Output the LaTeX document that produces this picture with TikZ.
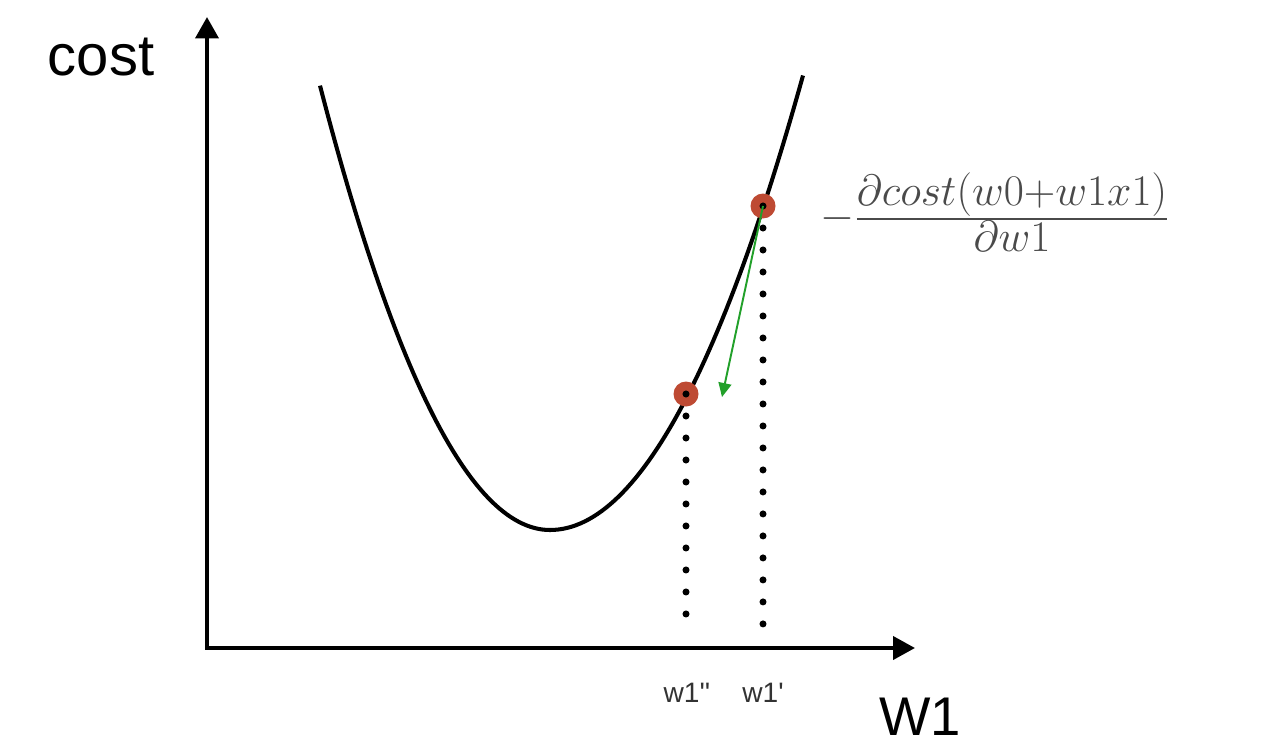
\documentclass[tikz,border=0pt]{standalone}
\usepackage{amsmath}
\usepackage[no-math]{fontspec}
\setmainfont{Liberation Sans}
\usetikzlibrary{arrows.meta,positioning}
\definecolor{dotred}{HTML}{BE4A33}
\definecolor{stepgreen}{HTML}{22A02A}
\definecolor{inkgray}{HTML}{4A4A4A}
\tikzset{axis/.style={line width=2.3pt,{Triangle[length=0.43cm,width=0.46cm]}-{Triangle[length=0.44cm,width=0.46cm]}}, curve/.style={line width=2.3pt}, point/.style={circle,fill=dotred,inner sep=0pt,minimum size=0.5cm}, guide/.style={line width=4pt,line cap=round,dash pattern=on 0pt off 0.44cm}, gradstep/.style={-{Triangle[length=0.28cm,width=0.26cm]},line width=1.1pt,draw=stepgreen}, biglabel/.style={font=\fontsize{33}{38}\selectfont,inner sep=0pt}, ticklabel/.style={font=\fontsize{16}{19}\selectfont,text=black!80,inner sep=0pt}, formula/.style={font=\fontsize{20.74}{25}\selectfont,scale=1.2,text=inkgray,inner sep=0pt}}
\begin{document}
\begin{tikzpicture}[x=0.02cm,y=0.02cm]
\useasboundingbox (0,0) rectangle (1277,752);
\coordinate (origin) at (207,104);
\coordinate (ytip) at (207,735);
\coordinate (xtip) at (915,104);
\coordinate (oldfoot) at (763,120);
\coordinate (newfoot) at (686,120);
\coordinate (steptip) at (722,355);
\draw[axis] (ytip)--(origin)--(xtip);
\draw[curve] plot[domain=320:550,samples=60] (\x,{222+0.84*((\x-550)/10)^2}) -- plot[domain=550:803,samples=60] (\x,{222+0.71*((\x-550)/10)^2});
\node[point] (newpt) at (686,358) {};
\node[point] (oldpt) at (763,546) {};
\draw[guide] (oldpt.center)--(oldfoot);
\draw[guide] (newpt.center)--(newfoot);
\draw[gradstep] (oldpt.center)--(steptip);
\node[biglabel,anchor=base] (costlabel) at (101,677) {cost};
\node[biglabel,anchor=base,font=\fontsize{31}{36}\selectfont] (wlabel) at (920,17) {W1};
\node[ticklabel,anchor=base] (newlabel) at (687,50) {w1\textquotesingle\textquotesingle};
\node[ticklabel,anchor=base] (oldlabel) at (763,50) {w1\textquotesingle};
\node[formula] (grad) at (995,540) {$-\frac{\displaystyle\partial cost(w0{+}w1x1)}{\displaystyle\partial w1}$};
\end{tikzpicture}
\end{document}
